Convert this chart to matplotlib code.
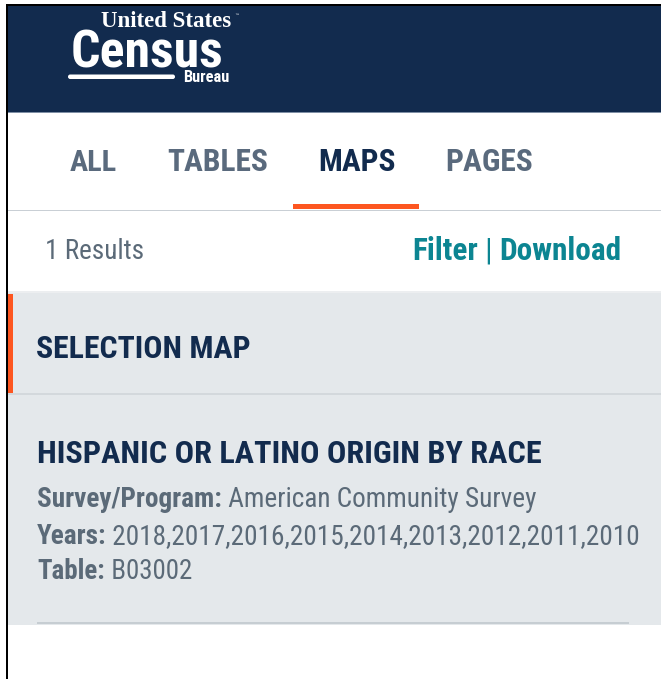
import matplotlib
matplotlib.use("Agg")
import matplotlib.pyplot as plt
from matplotlib.patches import Rectangle, FancyBboxPatch
from matplotlib import font_manager

# page content
logo_top = "United States"
logo_main = "Census"
logo_sub = "Bureau"
tabs = ["ALL", "TABLES", "MAPS", "PAGES"]
active_tab = "MAPS"
result_count = "1 Results"
actions = ["Filter", "Download"]
section_title = "SELECTION MAP"
item_title = "HISPANIC OR LATINO ORIGIN BY RACE"
detail_labels = ["Survey/Program:", "Years:", "Table:"]
detail_values = ["American Community Survey",
                 "2018,2017,2016,2015,2014,2013,2012,2011,2010",
                 "B03002"]

NAVY = "#122b4e"
GREY_TXT = "#5b6a78"
TAB_TXT = "#5a6a7d"
TEAL = "#0c8592"
ORANGE = "#fd5620"
PANEL = "#e4e8eb"
LINE = "#d3d8dc"

names = {f.name for f in font_manager.fontManager.ttflist}
COND = [n for n in ["Roboto Condensed", "Liberation Sans Narrow", "Roboto"] if n in names]
if not COND:
    COND = ["DejaVu Sans"]
SERIF = [n for n in ["Liberation Serif", "DejaVu Serif"] if n in names] or ["serif"]

fig = plt.figure(figsize=(6.61, 6.79), dpi=100)
ax = fig.add_axes([0, 0, 1, 1])
ax.set_xlim(0, 661)
ax.set_ylim(679, 0)
ax.axis("off")
renderer = fig.canvas.get_renderer()


def fit_text(x, y, parts, width, family=COND):
    """parts: list of (text, weight, color); scaled so total width == width"""
    objs = [ax.text(0, y, s, fontsize=10, fontweight=w, color=c, family=family,
                    va="baseline", ha="left") for s, w, c in parts]
    total = sum(t.get_window_extent(renderer).width for t in objs)
    size = 10 * width / total
    cx = x
    for t in objs:
        t.set_fontsize(size)
        t.set_x(cx)
        cx += t.get_window_extent(renderer).width
    return objs


# frame
ax.add_patch(Rectangle((6, 4), 661, 2, color="black", lw=0))
ax.add_patch(Rectangle((6, 4), 2, 679, color="black", lw=0))

# header
ax.add_patch(Rectangle((8, 6), 661, 106, color=NAVY, lw=0))
ax.add_patch(Rectangle((8, 112), 661, 1.2, color="#7f8fa5", lw=0))
fit_text(101, 27, [(logo_top, "bold", "white")], 131, family=SERIF)
ax.text(234, 17, "\u2122", fontsize=3.5, color="white", va="baseline")
fit_text(71, 68, [(logo_main, "bold", "white")], 152)
ax.add_patch(FancyBboxPatch((68, 74.5), 107, 4.5, boxstyle="round,pad=0,rounding_size=2.2",
                            color="white", lw=0))
fit_text(183, 81.5, [(logo_sub, "bold", "white")], 46)

# tabs
tab_x = [70, 167, 318, 445]
tab_w = [47, 101, 77, 87]
for lab, x0, w in zip(tabs, tab_x, tab_w):
    col = NAVY if lab == active_tab else TAB_TXT
    fit_text(x0, 171, [(lab, "bold", col)], w)
ax.add_patch(Rectangle((293, 204), 126, 5, color=ORANGE, lw=0))
ax.add_patch(Rectangle((8, 209.5), 661, 1.5, color="#c9cfd5", lw=0))

# results row
fit_text(45, 259, [(result_count, "normal", GREY_TXT)], 98)
fit_text(412, 260, [(actions[0], "bold", TEAL), (" | ", "normal", TEAL),
                    (actions[1], "bold", TEAL)], 209)

# selection panel
ax.add_patch(Rectangle((8, 291), 661, 2, color="#eceef0", lw=0))
ax.add_patch(Rectangle((8, 293), 661, 332, color=PANEL, lw=0))
ax.add_patch(Rectangle((8, 294), 5, 99, color=ORANGE, lw=0))
ax.add_patch(Rectangle((8, 393), 661, 1.5, color=LINE, lw=0))
fit_text(36, 358, [(section_title, "bold", NAVY)], 214)

fit_text(37, 463, [(item_title, "bold", NAVY)], 501)
detail_base = [507, 544, 579]
detail_w = [498, 597, 155]
for lab, val, yb, w in zip(detail_labels, detail_values, detail_base, detail_w):
    fit_text(37, yb, [(lab, "bold", GREY_TXT), (" " + val, "normal", GREY_TXT)], w)
ax.add_patch(Rectangle((37, 622), 592, 2, color="#c6cdd2", lw=0))

fig.savefig("out.png", dpi=100, facecolor="white")
